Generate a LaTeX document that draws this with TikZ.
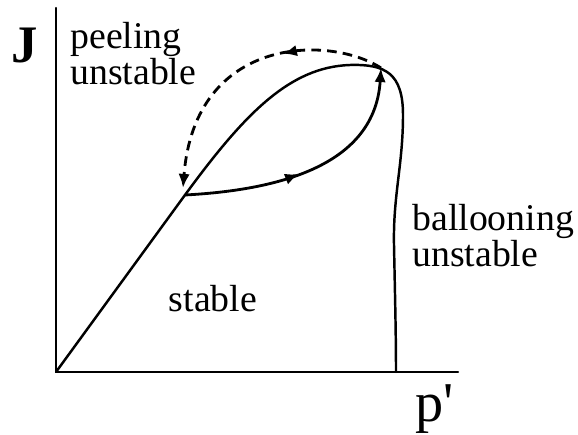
\documentclass[tikz,border=0pt]{standalone}
\usepackage{fontspec}
\setmainfont{Liberation Serif}
\newfontfamily\axisfont{Liberation Serif}
\usetikzlibrary{arrows.meta,decorations.markings}
\tikzset{
every picture/.style={line cap=round,line join=round},
axis line/.style={line width=1.3pt},
bound line/.style={line width=1.4pt},
cycle line/.style={line width=1.6pt},
cycle dashed/.style={line width=1.6pt, line cap=butt, dash pattern=on 5.5pt off 3.5pt},
tip/.style={-{Latex[length=8pt,width=6.5pt]}},
mid arrow/.style={postaction={decorate},
  decoration={markings,mark=at position #1 with {\arrow{Latex[length=8pt,width=6.5pt]}}}},
fig label/.style={font=\axisfont\fontsize{21.5}{18.8}\selectfont, align=left, inner sep=0pt},
axis label/.style={font=\axisfont\fontsize{32}{34}\selectfont, inner sep=0pt}
}
\begin{document}
\begin{tikzpicture}[x=0.02cm,y=0.02cm]
\useasboundingbox (0,0) rectangle (578,435);
% axes
\coordinate (O) at (56,63);
\coordinate (ytop) at (56,427);
\coordinate (xend) at (458,63);
\draw[axis line] (ytop) -- (O) -- (xend);
\node[axis label,font=\axisfont\bfseries\fontsize{30}{32}\selectfont,anchor=base] (J) at (25,372) {J};
\node[axis label,anchor=base west] (p) at (415,13) {p'};
% stability boundary
\coordinate (A) at (185,240);
\coordinate (P) at (381,367);
\draw[bound line] (O) -- (A)
  .. controls (245,322) and (290,368) .. (350,370)
  .. controls (385,371) and (403,362) .. (403,320)
  .. controls (403,270) and (393,240) .. (394,190)
  .. controls (395,140) and (396,100) .. (396,63);
% cycle
\draw[cycle line,tip,mid arrow=0.45] (A) .. controls (280,245) and (375,270) .. (P);
\draw[cycle dashed,tip,mid arrow=0.36] (P) .. controls (330,400) and (195,400) .. (183,247);
% labels
\node[fig label,anchor=base west] (peel) at (70,350) {peeling\\unstable};
\node[fig label,anchor=base] (stab) at (213,123) {stable};
\node[fig label,anchor=base west] (ball) at (412,168) {ballooning\\unstable};
\end{tikzpicture}
\end{document}
